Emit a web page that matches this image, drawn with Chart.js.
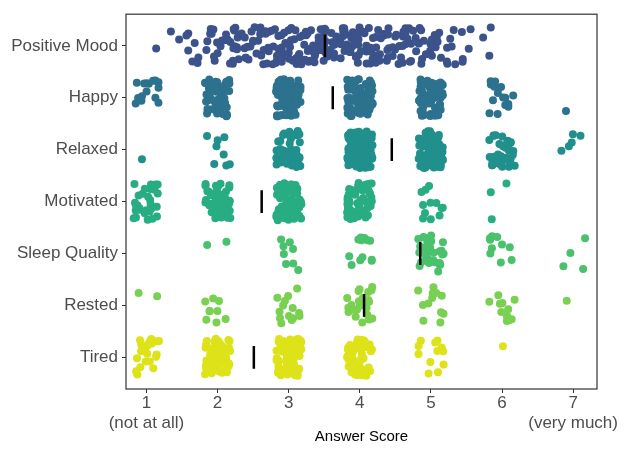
<!DOCTYPE html>
<html>
<head>
<meta charset="utf-8">
<script src="https://cdn.jsdelivr.net/npm/chart.js@4.4.0/dist/chart.umd.min.js"></script>
<style>
  html, body { margin: 0; padding: 0; background: #fff; }
</style>
</head>
<body>
<canvas id="chart" width="626" height="449"></canvas>
<script>
/* ── Data ── */
const ITEMS  = ['Positive Mood', 'Happy', 'Relaxed', 'Motivated', 'Sleep Quality', 'Rested', 'Tired'];
const COLORS = ['#3B528B', '#2C728E', '#21908C', '#27AD81', '#4AC16D', '#7AD151', '#DDE318'];
const SCORES = [1, 2, 3, 4, 5, 6, 7];

// Positive Mood is an averaged score, so it sits on quarter steps
const moodValues = [1.25, 1.5, 1.75, 2, 2.25, 2.5, 2.75, 3, 3.25, 3.5, 3.75, 4, 4.25, 4.5, 4.75, 5, 5.25, 5.5, 5.75];
const moodCounts = [2, 4, 6, 12, 16, 18, 20, 20, 22, 22, 22, 20, 20, 18, 16, 12, 8, 5, 3];

// answers per score 1..7
const happyCounts     = [15, 50, 80, 75, 65, 15, 1];
const relaxedCounts   = [1, 8, 50, 100, 90, 40, 5];
const motivatedCounts = [30, 50, 80, 50, 12, 3, 0];
const sleepCounts     = [0, 2, 8, 12, 35, 10, 4];
const restedCounts    = [2, 9, 14, 25, 12, 12, 1];
const tiredCounts     = [25, 65, 65, 45, 12, 1, 0];

const MEANS = [3.51, 3.62, 4.45, 2.62, 4.85, 4.06, 2.51];

const X_SUB = { 1: '(not at all)', 7: '(very much)' };

/* ── Jitter (fixed seed so the picture is stable) ── */
let seed = 20240611;
function rand() {
  seed |= 0; seed = seed + 0x6D2B79F5 | 0;
  let t = Math.imul(seed ^ seed >>> 15, 1 | seed);
  t = t + Math.imul(t ^ t >>> 7, 61 | t) ^ t;
  return ((t ^ t >>> 14) >>> 0) / 4294967296;
}

function jitter(values, counts, row, wx) {
  const pts = [];
  values.forEach((v, i) => {
    for (let k = 0; k < counts[i]; k++) {
      pts.push({ x: v + (rand() * 2 - 1) * wx, y: row + (rand() * 2 - 1) * 0.36 });
    }
  });
  return pts;
}

const rows = [
  jitter(moodValues, moodCounts, 1, 0.125),
  jitter(SCORES, happyCounts, 2, 0.18),
  jitter(SCORES, relaxedCounts, 3, 0.18),
  jitter(SCORES, motivatedCounts, 4, 0.18),
  jitter(SCORES, sleepCounts, 5, 0.18),
  jitter(SCORES, restedCounts, 6, 0.18),
  jitter(SCORES, tiredCounts, 7, 0.18)
];

const pointSets = rows.map((pts, i) => ({
  type: 'scatter',
  data: pts,
  backgroundColor: COLORS[i],
  borderWidth: 0,
  pointRadius: 4,
  pointHoverRadius: 4,
  order: 2
}));

// mean markers sit on top of the dots
const meanSets = MEANS.map((m, i) => ({
  type: 'line',
  data: [{ x: m, y: i + 1 - 0.22 }, { x: m, y: i + 1 + 0.22 }],
  borderColor: '#000',
  borderWidth: 2.5,
  pointRadius: 0,
  fill: false,
  order: 1
}));

/* ── Panel border ── */
const frame = {
  id: 'frame',
  afterDatasetsDraw(chart) {
    const { ctx, chartArea: a } = chart;
    ctx.save();
    ctx.strokeStyle = '#333';
    ctx.lineWidth = 1.2;
    ctx.strokeRect(a.left, a.top, a.right - a.left, a.bottom - a.top);
    ctx.restore();
  }
};

const labelFont = { family: "'Liberation Sans', Arial, sans-serif", size: 17 };

new Chart(document.getElementById('chart'), {
  data: { datasets: [...pointSets, ...meanSets] },
  options: {
    responsive: false,
    animation: false,
    events: [],
    layout: { padding: { left: 0, right: 29, top: 10, bottom: 0 } },
    plugins: { legend: { display: false }, tooltip: { enabled: false } },
    scales: {
      x: {
        type: 'linear',
        min: 0.712,
        max: 7.336,
        afterBuildTicks: s => { s.ticks = SCORES.map(v => ({ value: v })); },
        afterFit: s => { s.height = 60; },
        grid: { drawOnChartArea: false, drawTicks: true, tickLength: 4, color: '#333' },
        border: { display: false },
        ticks: {
          color: '#4D4D4D',
          font: { ...labelFont, lineHeight: 1.15 },
          padding: 1,
          autoSkip: false,
          maxRotation: 0,
          callback: v => X_SUB[v] ? [String(v), X_SUB[v]] : String(v)
        },
        title: {
          display: true,
          text: 'Answer Score',
          color: '#000',
          font: { family: "'Liberation Sans', Arial, sans-serif", size: 15 },
          padding: { top: 0, bottom: 3 }
        }
      },
      y: {
        type: 'linear',
        reverse: true,
        min: 0.39,
        max: 7.61,
        afterBuildTicks: s => { s.ticks = SCORES.map(v => ({ value: v })); },
        afterFit: s => { s.width = 126; },
        grid: { drawOnChartArea: false, drawTicks: true, tickLength: 4, color: '#333' },
        border: { display: false },
        ticks: {
          color: '#4D4D4D',
          font: labelFont,
          padding: 4,
          autoSkip: false,
          callback: v => ITEMS[v - 1]
        }
      }
    }
  },
  plugins: [frame]
});
</script>
</body>
</html>
